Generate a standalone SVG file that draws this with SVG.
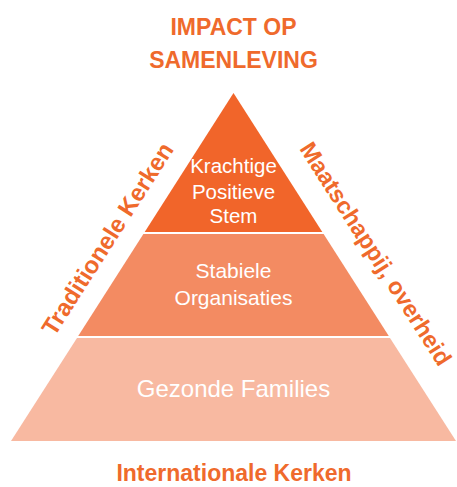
<svg xmlns="http://www.w3.org/2000/svg" width="457" height="487" viewBox="0 0 457 487">
<style>
.lbl{font-family:"Liberation Sans",Arial,sans-serif;font-weight:bold;fill:#EF6A2C;text-anchor:middle}
.in{font-family:"Liberation Sans",Arial,sans-serif;fill:#FFFFFF;text-anchor:middle}
</style>
<rect width="457" height="487" fill="#FFFFFF"/>
<g id="title">
<text class="lbl" x="233.5" y="35" font-size="23">IMPACT OP</text>
<text class="lbl" x="233.5" y="68" font-size="23">SAMENLEVING</text>
</g>
<g id="layer-top">
<polygon points="233.5,93 144.7,232 322.3,232" fill="#F1652A"/>
<text class="in" x="233.5" y="173" font-size="20.5">Krachtige</text>
<text class="in" x="233.5" y="199" font-size="20.5">Positieve</text>
<text class="in" x="233.5" y="223" font-size="20.5">Stem</text>
</g>
<g id="layer-mid">
<polygon points="143.4,234 323.6,234 388.8,336 78.2,336" fill="#F38B62"/>
<text class="in" x="233.5" y="278" font-size="21">Stabiele</text>
<text class="in" x="233.5" y="305" font-size="21">Organisaties</text>
</g>
<g id="layer-bottom">
<polygon points="77,338 390,338 456,441 11,441" fill="#F8B9A1"/>
<text class="in" x="233.5" y="397" font-size="24">Gezonde Families</text>
</g>
<g id="side-left">
<text class="lbl" font-size="24" transform="translate(107.7,239) rotate(-57.4)" y="8">Traditionele Kerken</text>
</g>
<g id="side-right">
<text class="lbl" font-size="23.5" transform="translate(374,255) rotate(57.4)" y="6">Maatschappij, overheid</text>
</g>
<g id="base">
<text class="lbl" x="234" y="481" font-size="23">Internationale Kerken</text>
</g>
<g id="connectors"/>
</svg>
